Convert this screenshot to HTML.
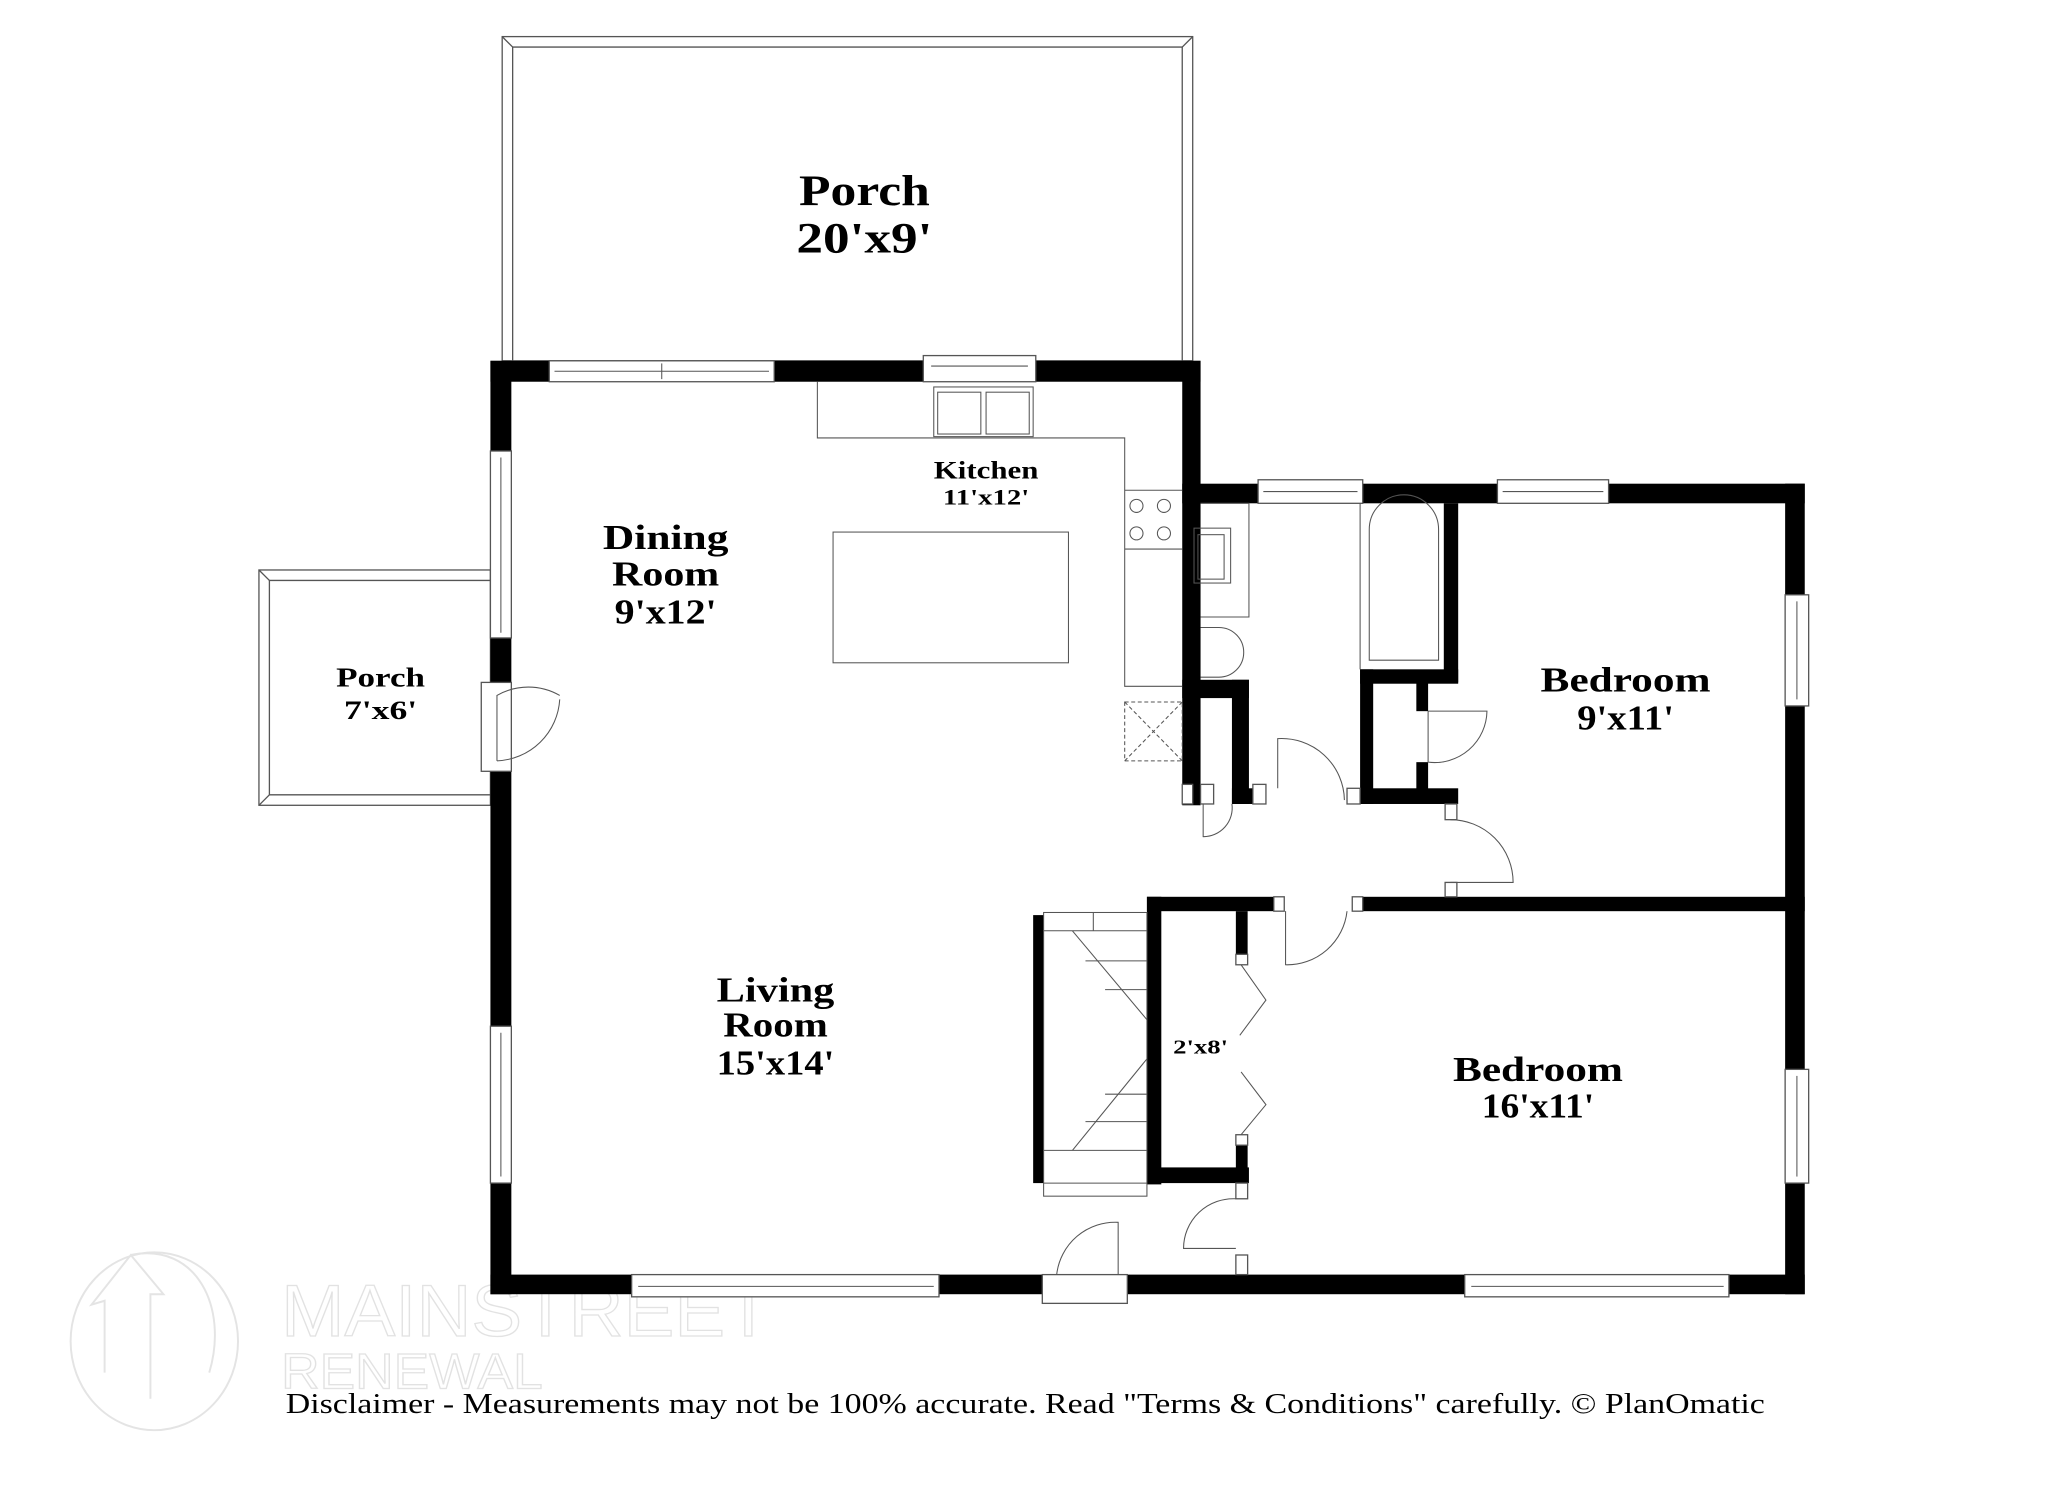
<!DOCTYPE html>
<html><head><meta charset="utf-8"><style>
html,body{margin:0;padding:0;background:#fff;}
svg{display:block;}
text{font-family:"Liberation Serif",serif;font-weight:bold;fill:#000;text-anchor:middle;}
</style></head><body>
<svg width="2048" height="1489" viewBox="0 0 1566 1139" preserveAspectRatio="none" xmlns="http://www.w3.org/2000/svg">
<rect width="1566" height="1139" fill="#fff"/>
<!-- watermark -->
<g fill="none" stroke="#e4e4e4" stroke-width="1.5">
<ellipse cx="118" cy="1026" rx="64" ry="68"/>
<path d="M80 1050 L80 995 L70 998 L100 960 L125 990 L115 990 L115 1070"/>
<path d="M100 960 C150 950 175 1000 160 1050"/>
</g>
<text x="215" y="1022" style="font-family:'Liberation Sans',sans-serif;font-weight:normal;text-anchor:start;fill:#fff;stroke:#e2e2e2;stroke-width:1" font-size="56" textLength="375" lengthAdjust="spacingAndGlyphs">MAINSTREET</text>
<text x="215" y="1062" style="font-family:'Liberation Sans',sans-serif;font-weight:normal;text-anchor:start;fill:#fff;stroke:#e2e2e2;stroke-width:1" font-size="38" textLength="200" lengthAdjust="spacingAndGlyphs">RENEWAL</text>

<!-- porches -->
<g fill="none" stroke="#555" stroke-width="1">
<rect x="384" y="28" width="528" height="248"/>
<polyline points="392,276 392,36 904,36 904,276"/>
<line x1="384" y1="28" x2="392" y2="36"/><line x1="912" y1="28" x2="904" y2="36"/>
<rect x="198" y="436" width="177" height="180"/>
<polyline points="375,444 206,444 206,608 375,608"/>
<line x1="198" y1="436" x2="206" y2="444"/><line x1="198" y1="616" x2="206" y2="608"/>
</g>

<!-- walls -->
<g fill="#000">
<rect x="375" y="276" width="543" height="16"/>
<rect x="375" y="276" width="16" height="714"/>
<rect x="904" y="276" width="14" height="340"/>
<rect x="904" y="370" width="476" height="15"/>
<rect x="1365" y="370" width="15" height="620"/>
<rect x="375" y="975" width="1005" height="15"/>
<rect x="904" y="520" width="51" height="14"/>
<rect x="942" y="520" width="13" height="95"/>
<rect x="942" y="603" width="26" height="12"/>
<rect x="1104" y="385" width="11" height="137"/>
<rect x="1040" y="512" width="75" height="11"/>
<rect x="1040" y="512" width="10" height="103"/>
<rect x="1040" y="603" width="75" height="12"/>
<rect x="1083" y="522" width="9" height="22"/>
<rect x="1083" y="583" width="9" height="22"/>
<rect x="877" y="686" width="97" height="11"/>
<rect x="1040" y="686" width="340" height="11"/>
<rect x="877" y="686" width="11" height="220"/>
<rect x="877" y="893" width="78" height="12"/>
<rect x="945" y="697" width="9" height="33"/>
<rect x="945" y="876" width="9" height="20"/>
<rect x="790" y="700" width="8" height="205"/>
</g>

<!-- windows -->
<g fill="#fff" stroke="#555" stroke-width="1">
<rect x="420" y="276" width="172" height="16"/>
<rect x="706" y="272" width="86" height="20"/>
<rect x="962" y="367" width="80" height="18"/>
<rect x="1145" y="367" width="85" height="18"/>
<rect x="375" y="345" width="16" height="143"/>
<rect x="375" y="785" width="16" height="120"/>
<rect x="1365" y="455" width="18" height="85"/>
<rect x="1365" y="818" width="18" height="87"/>
<rect x="483" y="975" width="235" height="17"/>
<rect x="1120" y="975" width="202" height="17"/>
<rect x="797" y="975" width="65" height="22"/>
<rect x="368" y="522" width="23" height="68"/>
<rect x="918" y="600" width="10" height="15"/>
<rect x="904" y="600" width="8" height="15"/>
<rect x="958" y="600" width="10" height="15"/>
<rect x="1030" y="603" width="10" height="12"/>
<rect x="974" y="686" width="8" height="11"/>
<rect x="1034" y="686" width="8" height="11"/>
<rect x="1105" y="615" width="9" height="12"/>
<rect x="1105" y="675" width="9" height="11"/>
<rect x="945" y="730" width="9" height="8"/>
<rect x="945" y="868" width="9" height="8"/>
<rect x="945" y="905" width="9" height="12"/>
<rect x="945" y="960" width="9" height="15"/>
</g>
<g fill="none" stroke="#555" stroke-width="0.8">
<line x1="424" y1="284" x2="588" y2="284"/><line x1="506" y1="278" x2="506" y2="290"/>
<line x1="712" y1="280" x2="786" y2="280"/>
<line x1="966" y1="376" x2="1038" y2="376"/>
<line x1="1149" y1="376" x2="1226" y2="376"/>
<line x1="383" y1="350" x2="383" y2="484"/>
<line x1="383" y1="790" x2="383" y2="900"/>
<line x1="1374" y1="460" x2="1374" y2="535"/>
<line x1="1374" y1="823" x2="1374" y2="900"/>
<line x1="488" y1="984" x2="714" y2="984"/>
<line x1="1125" y1="984" x2="1318" y2="984"/>
<path d="M380 582 L380 532 A48 48 0 0 1 428 532"/>
<path d="M380 582 A50 50 0 0 0 428 535" />
<path d="M920 615 L920 640 A22 22 0 0 0 942 615"/>
<path d="M977 603 L977 565 A48 48 0 0 1 1028 612"/>
<path d="M1092 544 L1092 583 A40 40 0 0 0 1137 544 L1092 544"/>
<path d="M1109 627 A48 48 0 0 1 1157 675 L1109 675"/>
<path d="M983 697 L983 738 A46 46 0 0 0 1030 697"/>
<path d="M945 917 A38 38 0 0 0 905 955 L945 955"/>
<path d="M855 975 L855 935 A45 45 0 0 0 808 975"/>
<polyline points="949,738 968,765 948,792"/>
<polyline points="949,820 968,845 949,868"/>
<rect x="798" y="698" width="79" height="217"/>
<line x1="798" y1="712" x2="877" y2="712"/>
<line x1="836" y1="698" x2="836" y2="712"/>
<line x1="820" y1="712" x2="877" y2="780"/>
<line x1="820" y1="880" x2="877" y2="810"/>
<line x1="798" y1="880" x2="877" y2="880"/>
<line x1="830" y1="735" x2="877" y2="735"/>
<line x1="845" y1="757" x2="877" y2="757"/>
<line x1="845" y1="837" x2="877" y2="837"/>
<line x1="830" y1="858" x2="877" y2="858"/>
<line x1="798" y1="905" x2="877" y2="905"/>
<polyline points="625,292 625,335 860,335 860,525 904,525"/>
<rect x="714" y="296" width="76" height="38"/>
<rect x="717" y="300" width="33" height="32"/><rect x="754" y="300" width="33" height="32"/>
<line x1="860" y1="375" x2="904" y2="375"/><line x1="860" y1="420" x2="904" y2="420"/>
<circle cx="869" cy="387" r="5"/><circle cx="890" cy="387" r="5"/>
<circle cx="869" cy="408" r="5"/><circle cx="890" cy="408" r="5"/>
<rect x="637" y="407" width="180" height="100"/>
<g stroke-dasharray="3,2"><rect x="860" y="537" width="44" height="45"/><line x1="860" y1="537" x2="904" y2="582"/><line x1="904" y1="537" x2="860" y2="582"/></g>
<polyline points="918,385 955,385 955,472 918,472"/>
<rect x="913" y="404" width="28" height="42"/><rect x="916" y="409" width="20" height="34"/>
<path d="M918 480 L932 480 A18 18 0 1 1 932 518 L918 518"/>
<line x1="1040" y1="385" x2="1040" y2="512"/>
<path d="M1047 505 L1047 405 A26 26 0 0 1 1100 405 L1100 505 Z"/>
</g>

<text x="661" y="157" font-size="33" textLength="100" lengthAdjust="spacingAndGlyphs">Porch</text>
<text x="661" y="193" font-size="33" textLength="104" lengthAdjust="spacingAndGlyphs">20'x9'</text>
<text x="754" y="366" font-size="19" textLength="80" lengthAdjust="spacingAndGlyphs">Kitchen</text>
<text x="754" y="386" font-size="17" textLength="66" lengthAdjust="spacingAndGlyphs">11'x12'</text>
<text x="509" y="420" font-size="27" textLength="96" lengthAdjust="spacingAndGlyphs">Dining</text>
<text x="509" y="448" font-size="27" textLength="82" lengthAdjust="spacingAndGlyphs">Room</text>
<text x="509" y="477" font-size="27" textLength="78" lengthAdjust="spacingAndGlyphs">9'x12'</text>
<text x="291" y="525" font-size="21" textLength="68" lengthAdjust="spacingAndGlyphs">Porch</text>
<text x="291" y="550" font-size="20" textLength="56" lengthAdjust="spacingAndGlyphs">7'x6'</text>
<text x="593" y="766" font-size="27" textLength="90" lengthAdjust="spacingAndGlyphs">Living</text>
<text x="593" y="793" font-size="27" textLength="80" lengthAdjust="spacingAndGlyphs">Room</text>
<text x="593" y="822" font-size="27" textLength="90" lengthAdjust="spacingAndGlyphs">15'x14'</text>
<text x="1243" y="529" font-size="27" textLength="130" lengthAdjust="spacingAndGlyphs">Bedroom</text>
<text x="1243" y="558" font-size="27" textLength="74" lengthAdjust="spacingAndGlyphs">9'x11'</text>
<text x="1176" y="827" font-size="27" textLength="130" lengthAdjust="spacingAndGlyphs">Bedroom</text>
<text x="1176" y="855" font-size="27" textLength="86" lengthAdjust="spacingAndGlyphs">16'x11'</text>
<text x="918" y="806" font-size="15" textLength="42" lengthAdjust="spacingAndGlyphs">2'x8'</text>
<text x="784" y="1081" font-size="22" style="font-weight:normal" textLength="1131" lengthAdjust="spacingAndGlyphs">Disclaimer - Measurements may not be 100% accurate. Read "Terms &amp; Conditions" carefully. © PlanOmatic</text>
</svg>
</body></html>
